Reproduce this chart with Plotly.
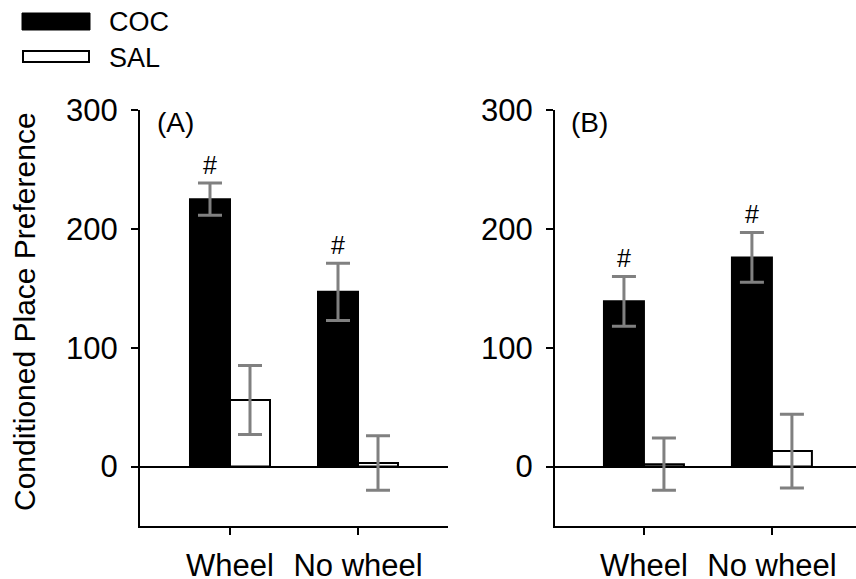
import plotly.graph_objects as go

# ---- data ----
categories = ["Wheel", "No wheel"]
coc_A = [225, 147]
coc_A_err = [13.5, 24]
sal_A = [56, 3]
sal_A_err = [29, 23]
coc_B = [139, 176]
coc_B_err = [21, 21]
sal_B = [2, 13]
sal_B_err = [22, 31]
y_ticks = [0, 100, 200, 300]
panel_labels = ["(A)", "(B)"]
sig_A = [True, True]
sig_B = [True, True]

FONT = "Arial, Liberation Sans, sans-serif"
W, H = 856, 579
BARGAP = 0.375
bar_w = (1 - BARGAP) / 2
xpos = list(range(len(categories)))

fig = go.Figure()

def add_panel(xa, ya, coc, coc_err, sal, sal_err):
    fig.add_trace(go.Bar(
        x=xpos, y=coc, xaxis=xa, yaxis=ya, name="COC", showlegend=False,
        marker=dict(color="black", line=dict(color="black", width=2)),
        error_y=dict(type="data", array=coc_err, color="#808080", thickness=3, width=12),
    ))
    fig.add_trace(go.Bar(
        x=xpos, y=sal, xaxis=xa, yaxis=ya, name="SAL", showlegend=False,
        marker=dict(color="white", line=dict(color="black", width=2)),
        error_y=dict(type="data", array=sal_err, color="#808080", thickness=3, width=12),
    ))

add_panel("x", "y", coc_A, coc_A_err, sal_A, sal_A_err)
add_panel("x2", "y2", coc_B, coc_B_err, sal_B, sal_B_err)

ydom = [53 / H, 469 / H]
axis_common = dict(showline=True, linecolor="black", linewidth=2, ticks="outside",
                   ticklen=7, tickwidth=2, tickcolor="black", showgrid=False,
                   automargin=False,
                   tickfont=dict(family=FONT, size=31, color="black"))

fig.update_layout(
    template="none",
    width=W, height=H, margin=dict(l=0, r=0, t=0, b=0, pad=0), autosize=False,
    paper_bgcolor="white", plot_bgcolor="white",
    barmode="group", bargap=BARGAP, bargroupgap=0,
    font=dict(family=FONT, color="black"),
    showlegend=False,
    xaxis=dict(domain=[140 / W, 448 / W], range=[-0.703, 1.703], tickvals=xpos,
               ticktext=categories, anchor="y", zeroline=False,
               ticklabelstandoff=4, **axis_common),
    xaxis2=dict(domain=[555 / W, 1.0], range=[-0.695, 1.657], tickvals=xpos,
                ticktext=categories, anchor="y2", zeroline=False,
                ticklabelstandoff=4, **axis_common),
    yaxis=dict(domain=ydom, range=[-50, 300], tickvals=y_ticks, anchor="x",
               zeroline=True, zerolinecolor="black", zerolinewidth=2,
               ticklabelstandoff=7, **axis_common),
    yaxis2=dict(domain=ydom, range=[-50, 300], tickvals=y_ticks, anchor="x2",
                zeroline=True, zerolinecolor="black", zerolinewidth=2,
                ticklabelstandoff=7, **axis_common),
)

# significance markers
for xa, ya, vals, errs, sig in [("x", "y", coc_A, coc_A_err, sig_A),
                                 ("x2", "y2", coc_B, coc_B_err, sig_B)]:
    for i, (v, e, s) in enumerate(zip(vals, errs, sig)):
        if s:
            fig.add_annotation(x=i - bar_w / 2, y=v + e, xref=xa, yref=ya,
                               text="#", showarrow=False, yanchor="bottom",
                               yshift=2, font=dict(family=FONT, size=25, color="black"))

# panel labels
fig.add_annotation(x=155 / W, y=(H - 123) / H, xref="paper", yref="paper", text=panel_labels[0],
                   showarrow=False, xanchor="left", yanchor="middle",
                   font=dict(family=FONT, size=28, color="black"))
fig.add_annotation(x=569 / W, y=(H - 123) / H, xref="paper", yref="paper", text=panel_labels[1],
                   showarrow=False, xanchor="left", yanchor="middle",
                   font=dict(family=FONT, size=28, color="black"))

# y axis title
fig.add_annotation(x=24 / W, y=(H - 312) / H, xref="paper", yref="paper",
                   text="Conditioned Place Preference", textangle=-90, showarrow=False,
                   xanchor="center", yanchor="middle",
                   font=dict(family=FONT, size=30, color="black"))

# legend
fig.add_shape(type="rect", xref="paper", yref="paper", x0=22 / W, x1=90 / W,
              y0=(H - 30) / H, y1=(H - 13) / H, fillcolor="black", line=dict(color="black", width=1))
fig.add_shape(type="rect", xref="paper", yref="paper", x0=23 / W, x1=89 / W,
              y0=(H - 62) / H, y1=(H - 51) / H, fillcolor="white", line=dict(color="black", width=2))
fig.add_annotation(x=107 / W, y=(H - 22) / H, xref="paper", yref="paper", text="COC",
                   showarrow=False, xanchor="left", yanchor="middle",
                   font=dict(family=FONT, size=27, color="black"))
fig.add_annotation(x=107 / W, y=(H - 58) / H, xref="paper", yref="paper", text="SAL",
                   showarrow=False, xanchor="left", yanchor="middle",
                   font=dict(family=FONT, size=27, color="black"))

fig.write_html("out.html", config={"displayModeBar": False},
               post_script="document.body.style.margin='0';document.body.style.padding='0';")
